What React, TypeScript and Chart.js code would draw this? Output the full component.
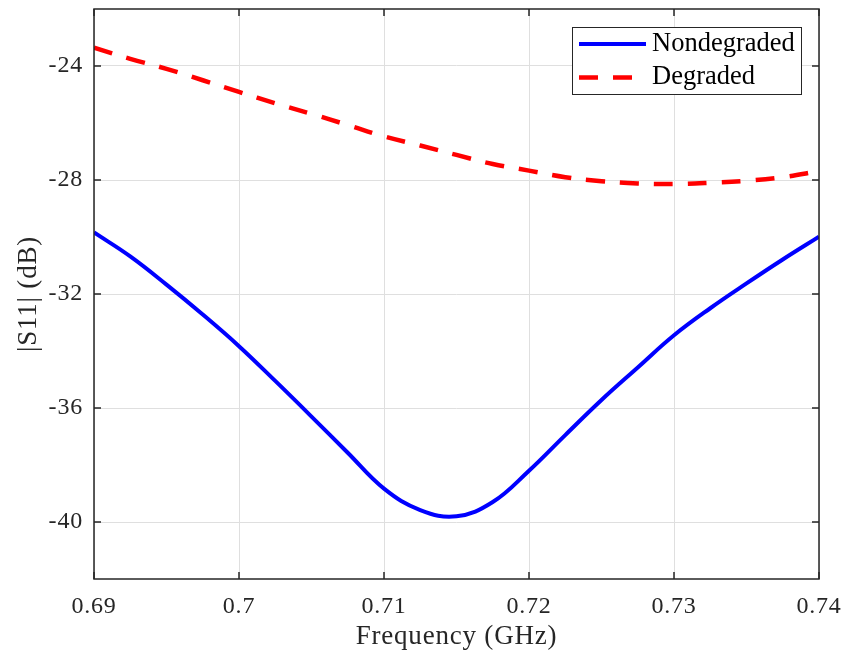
import React, { useEffect, useRef } from "react";
import { Chart, registerables } from "chart.js";

Chart.register(...registerables);

// ---- Data ----
const frequencies = [
  0.69, 0.6925, 0.695, 0.6975, 0.7, 0.7025, 0.705, 0.7075, 0.71, 0.7125, 0.715,
  0.7175, 0.72, 0.7225, 0.725, 0.7275, 0.73, 0.7325, 0.735, 0.7375, 0.74,
];
const nondegraded = [
  -29.84, -30.68, -31.67, -32.72, -33.83, -35.05, -36.3, -37.57, -38.83, -39.58, -39.8,
  -39.3, -38.2, -36.95, -35.72, -34.58, -33.45, -32.5, -31.63, -30.79, -29.99,
];
const degraded = [
  -23.36, -23.75, -24.1, -24.5, -24.91, -25.31, -25.68, -26.07, -26.47, -26.79, -27.12,
  -27.44, -27.67, -27.9, -28.04, -28.12, -28.14, -28.1, -28.03, -27.9, -27.69,
];
const seriesLabels = ["Nondegraded", "Degraded"];
const xTickValues = [0.69, 0.7, 0.71, 0.72, 0.73, 0.74];
const xTickLabels = ["0.69", "0.7", "0.71", "0.72", "0.73", "0.74"];
const yTickValues = [-40, -36, -32, -28, -24];
const yTickLabels = ["-40", "-36", "-32", "-28", "-24"];
const xTitle = "Frequency (GHz)";
const yTitle = "|S11| (dB)";
const xRange = [0.69, 0.74];
const yRange = [-42, -22];

const FONT = "'Liberation Serif', 'Times New Roman', serif";
const AXIS_COLOR = "#262626";

const framePlugin = {
  id: "matlabFrame",
  beforeUpdate(chart: any) {
    chart.ctx.letterSpacing = "0.8px";
  },
  beforeDraw(chart: any) {
    chart.ctx.letterSpacing = "0.8px";
  },
  afterDraw(chart: any) {
    const ctx = chart.ctx as CanvasRenderingContext2D;
    const { left, right, top, bottom } = chart.chartArea;
    const xs = chart.scales.x;
    const ys = chart.scales.y;
    ctx.save();
    ctx.letterSpacing = "0px";
    // box
    ctx.strokeStyle = AXIS_COLOR;
    ctx.lineWidth = 1.5;
    ctx.strokeRect(left, top, right - left, bottom - top);
    // inward ticks on all four sides
    const tl = 7;
    ctx.beginPath();
    xTickValues.forEach((v) => {
      const px = xs.getPixelForValue(v);
      ctx.moveTo(px, bottom);
      ctx.lineTo(px, bottom - tl);
      ctx.moveTo(px, top);
      ctx.lineTo(px, top + tl);
    });
    yTickValues.forEach((v) => {
      const py = ys.getPixelForValue(v);
      ctx.moveTo(left, py);
      ctx.lineTo(left + tl, py);
      ctx.moveTo(right, py);
      ctx.lineTo(right - tl, py);
    });
    ctx.stroke();

    // legend
    const w = 229;
    const h = 67;
    const bx = right - 18 - w;
    const by = top + 18;
    ctx.fillStyle = "#ffffff";
    ctx.fillRect(bx, by, w, h);
    ctx.strokeStyle = "#262626";
    ctx.lineWidth = 1;
    ctx.strokeRect(bx + 0.5, by + 0.5, w, h);
    chart.data.datasets.forEach((ds: any, i: number) => {
      const y = by + 17 + i * 33.5;
      ctx.save();
      ctx.strokeStyle = ds.borderColor;
      ctx.lineWidth = ds.borderWidth;
      ctx.setLineDash(ds.borderDash || []);
      ctx.lineCap = "butt";
      ctx.beginPath();
      ctx.moveTo(bx + 7, y);
      ctx.lineTo(bx + 74, y);
      ctx.stroke();
      ctx.restore();
      ctx.fillStyle = "#000000";
      ctx.font = `26.5px ${FONT}`;
      ctx.textAlign = "left";
      ctx.textBaseline = "middle";
      ctx.fillText(ds.label, bx + 80, y);
    });
    ctx.restore();
  },
};

export default function App() {
  const canvasRef = useRef<HTMLCanvasElement | null>(null);

  useEffect(() => {
    document.body.style.margin = "0";
    const canvas = canvasRef.current;
    if (!canvas) return;
    const chart = new Chart(canvas, {
      type: "line",
      data: {
        datasets: [
          {
            label: seriesLabels[0],
            data: frequencies.map((f, i) => ({ x: f, y: nondegraded[i] })),
            borderColor: "#0000ff",
            borderWidth: 4,
            pointRadius: 0,
            tension: 0.4,
            fill: false,
          },
          {
            label: seriesLabels[1],
            data: frequencies.map((f, i) => ({ x: f, y: degraded[i] })),
            borderColor: "#ff0000",
            borderWidth: 4.5,
            borderDash: [19, 15],
            borderCapStyle: "butt",
            pointRadius: 0,
            tension: 0.4,
            fill: false,
          },
        ],
      },
      options: {
        animation: false,
        responsive: false,
        layout: { padding: { top: 9, right: 27, left: 0, bottom: 0 } },
        plugins: {
          legend: { display: false },
          tooltip: { enabled: false },
        },
        scales: {
          x: {
            type: "linear",
            min: xRange[0],
            max: xRange[1],
            afterBuildTicks: (s: any) => {
              s.ticks = xTickValues.map((v) => ({ value: v }));
            },
            afterFit: (s: any) => {
              s.height = 76;
              s.paddingLeft = 0;
              s.paddingRight = 0;
            },
            ticks: {
              autoSkip: false,
              maxRotation: 0,
              padding: 13,
              color: AXIS_COLOR,
              font: { family: FONT, size: 24 },
              callback: (_v: any, i: number) => xTickLabels[i],
            },
            grid: {
              color: "#dfdfdf",
              lineWidth: 1,
              drawTicks: false,
            },
            border: { display: false },
            title: {
              display: true,
              text: xTitle,
              color: AXIS_COLOR,
              font: { family: FONT, size: 27 },
              padding: { top: 0, bottom: 2 },
            },
          },
          y: {
            type: "linear",
            min: yRange[0],
            max: yRange[1],
            afterBuildTicks: (s: any) => {
              s.ticks = yTickValues.map((v) => ({ value: v }));
            },
            afterFit: (s: any) => {
              s.width = 94;
              s.paddingTop = 0;
              s.paddingBottom = 0;
            },
            ticks: {
              padding: 11,
              color: AXIS_COLOR,
              font: { family: FONT, size: 24 },
              callback: (_v: any, i: number) => yTickLabels[i],
            },
            grid: {
              color: "#dfdfdf",
              lineWidth: 1,
              drawTicks: false,
            },
            border: { display: false },
            title: {
              display: true,
              text: yTitle,
              color: AXIS_COLOR,
              font: { family: FONT, size: 27 },
              padding: { top: 13, bottom: 0 },
            },
          },
        },
      },
      plugins: [framePlugin],
    } as any);
    return () => chart.destroy();
  }, []);

  return (
    <div style={{ width: 846, height: 655 }}>
      <canvas ref={canvasRef} width={846} height={655} style={{ display: "block" }} />
    </div>
  );
}
